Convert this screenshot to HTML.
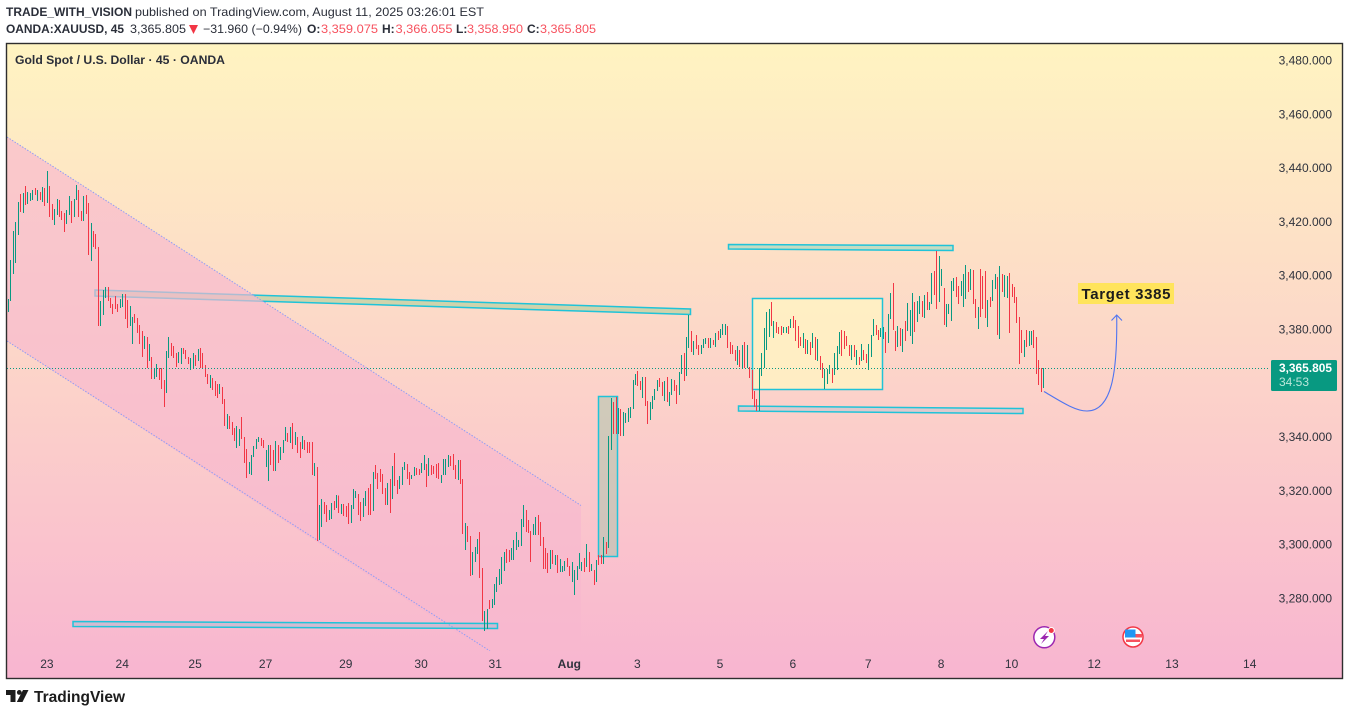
<!DOCTYPE html>
<html lang="en">
<head>
<meta charset="utf-8">
<title>Gold Spot / U.S. Dollar chart</title>
<style>
html,body{margin:0;padding:0;width:1349px;height:715px;overflow:hidden;background:#fff}
svg{display:block;font-family:"Liberation Sans",sans-serif}
</style>
</head>
<body>
<svg id="chart" xmlns="http://www.w3.org/2000/svg" width="1349" height="715" viewBox="0 0 1349 715">
  <defs>
    <linearGradient id="bgGrad" x1="0" y1="0" x2="0" y2="1">
      <stop offset="0" stop-color="#fff4c1"/>
      <stop offset="0.5" stop-color="#fcd5c9"/>
      <stop offset="1" stop-color="#f8b5d0"/>
    </linearGradient>
    <clipPath id="paneClip"><rect x="7" y="44" width="1335" height="607"/></clipPath>
  </defs>

  <g font-size="12">
    <text x="6" y="16" font-weight="700" fill="#2a2e39" textLength="126" lengthAdjust="spacingAndGlyphs">TRADE_WITH_VISION</text>
    <text x="135" y="16" fill="#2a2e39" textLength="349" lengthAdjust="spacingAndGlyphs">published on TradingView.com, August 11, 2025 03:26:01 EST</text>
    <text x="6" y="33" font-weight="700" fill="#2a2e39" textLength="118" lengthAdjust="spacingAndGlyphs">OANDA:XAUUSD, 45</text>
    <text x="130" y="33" fill="#2a2e39" textLength="56" lengthAdjust="spacingAndGlyphs">3,365.805</text>
    <polygon points="189,25 198,25 193.5,34" fill="#f23645"/>
    <text x="203" y="33" fill="#2a2e39" textLength="99" lengthAdjust="spacingAndGlyphs">−31.960 (−0.94%)</text>
    <text x="307" y="33" font-weight="700" fill="#2a2e39">O:</text>
    <text x="321" y="33" fill="#f7525f" textLength="57" lengthAdjust="spacingAndGlyphs">3,359.075</text>
    <text x="382" y="33" font-weight="700" fill="#2a2e39">H:</text>
    <text x="395.5" y="33" fill="#f7525f" textLength="57" lengthAdjust="spacingAndGlyphs">3,366.055</text>
    <text x="456" y="33" font-weight="700" fill="#2a2e39">L:</text>
    <text x="467" y="33" fill="#f7525f" textLength="56" lengthAdjust="spacingAndGlyphs">3,358.950</text>
    <text x="527" y="33" font-weight="700" fill="#2a2e39">C:</text>
    <text x="540" y="33" fill="#f7525f" textLength="56" lengthAdjust="spacingAndGlyphs">3,365.805</text>
  </g>

  <rect x="6.5" y="43.5" width="1336" height="635" fill="url(#bgGrad)"/>

  <g clip-path="url(#paneClip)">
    <polygon points="95,290 690.5,309 690.5,314.5 95,296" fill="rgba(170,205,150,.55)" stroke="#1fc3d8" stroke-width="1.5"/>
  </g>

  <g clip-path="url(#paneClip)">
    <polygon points="7,137 581,505.5 581,651 485,651 7,341" fill="rgba(248,184,206,.66)"/>
    <line x1="7" y1="137" x2="581" y2="505.5" stroke="#8f9cf6" stroke-width="1" stroke-dasharray="1.5 1.5"/>
    <line x1="7" y1="341" x2="490" y2="651" stroke="#8f9cf6" stroke-width="1" stroke-dasharray="1.5 1.5"/>
  </g>

  <g>
    <polygon points="73,621.5 497.5,623.5 497.5,628.5 73,626.5" fill="rgba(120,190,215,.3)" stroke="#1fc3d8" stroke-width="1.5"/>
    <rect x="598.5" y="396.5" width="19" height="160" fill="rgba(165,195,170,.5)" stroke="#1fc3d8" stroke-width="1.5"/>
    <polygon points="728.5,244.5 953,245.5 953,250.5 728.5,249" fill="rgba(140,215,190,.5)" stroke="#1fc3d8" stroke-width="1.5"/>
    <rect x="752.5" y="298.5" width="130" height="91" fill="rgba(255,243,195,.82)" stroke="#1fc3d8" stroke-width="1.5"/>
    <polygon points="738.5,406 1023,408.5 1023,413.5 738.5,411" fill="rgba(150,190,215,.3)" stroke="#1fc3d8" stroke-width="1.5"/>
  </g>

  <g id="bars"></g>
  <line id="lastLine" x1="7" x2="1268" stroke="#089981" stroke-width="1" stroke-dasharray="1 2" shape-rendering="crispEdges"/>

  <g fill="none" stroke="#4f74f0" stroke-width="1.1">
    <path d="M1044 391.5 C1060 401 1075 411 1087 411 C1112 411 1117.5 372 1116.7 315"/>
    <path d="M1111.5 320.5 L1116.7 315 L1122 320.5"/>
  </g>
  <g>
    <rect x="1078" y="283" width="96" height="21" fill="#ffe45c"/>
    <text x="1081.5" y="299" font-size="15" font-weight="700" fill="#1c1c1c" textLength="89" lengthAdjust="spacing">Target 3385</text>
  </g>

  <g id="yAxis" font-size="12" fill="#2f333d" text-anchor="end"></g>
  <g id="xAxis" font-size="12" fill="#2f333d" text-anchor="middle"></g>

  <g>
    <rect x="1271" y="360" width="66" height="31" rx="1.5" fill="#089981"/>
    <text id="lastText" x="1332" y="372" font-size="12" font-weight="700" fill="#fff" text-anchor="end" textLength="53" lengthAdjust="spacingAndGlyphs"></text>
    <text x="1279" y="386" font-size="12" fill="#b9e6da">34:53</text>
  </g>

  <text x="15" y="64" font-size="12" font-weight="700" fill="#2a2e39" textLength="210" lengthAdjust="spacingAndGlyphs">Gold Spot / U.S. Dollar · 45 · OANDA</text>

  <g>
    <circle cx="1044.3" cy="637.3" r="10.5" fill="#fff" stroke="#9c27b0" stroke-width="1.5"/>
    <polygon points="1048,631 1040,639 1044,639 1041,644 1049,636 1045,636" fill="#9c27b0"/>
    <circle cx="1051.3" cy="630.5" r="3" fill="#f23645" stroke="#fff" stroke-width="1"/>
  </g>
  <g>
    <circle cx="1133" cy="637" r="10" fill="#fff" stroke="#f23645" stroke-width="1.5"/>
    <rect x="1125" y="629.5" width="10.5" height="8" fill="#2196f3"/>
    <rect x="1135.5" y="634" width="6.5" height="3.5" fill="#f7525f"/>
    <rect x="1126" y="639.5" width="14" height="2.5" fill="#f7525f"/>
  </g>

  <rect x="6.5" y="43.5" width="1336" height="635" fill="none" stroke="#2e2e2e" stroke-width="1.4"/>

  <g>
    <polygon points="6,690 15.5,690 15.5,702 10.5,702 10.5,695 6,695" fill="#1c1c1c"/>
    <circle cx="19.3" cy="692.4" r="2.4" fill="#1c1c1c"/>
    <polygon points="23,690 28.5,690 22.5,702 16.8,702" fill="#1c1c1c"/>
    <text x="34" y="702" font-size="16" font-weight="700" fill="#1c1c1c" textLength="91" lengthAdjust="spacingAndGlyphs">TradingView</text>
  </g>
</svg>

<script>
const highs = [
3391.5,3406.0,3416.8,3420.2,3427.6,3430.6,3430.9,3433.6,3431.3,3430.9,
3432.1,3432.8,3432.1,3431.3,3433.2,3432.8,3439.1,3433.6,3426.9,3425.0,
3428.7,3428.3,3424.3,3423.5,3424.6,3429.8,3428.0,3428.7,3433.9,3432.1,
3424.3,3429.8,3430.2,3427.2,3419.8,3416.8,3415.7,3410.9,3390.8,3394.9,
3396.0,3396.0,3391.9,3389.7,3392.6,3389.7,3391.5,3393.4,3393.4,3391.2,
3388.9,3384.9,3386.0,3384.5,3381.9,3379.6,3377.8,3377.4,3374.8,3370.0,
3365.5,3367.4,3365.9,3365.9,3361.4,3372.2,3377.4,3375.2,3374.1,3371.5,
3371.8,3373.3,3373.3,3372.6,3370.0,3369.6,3371.5,3370.7,3373.0,3373.3,
3371.5,3367.0,3363.7,3363.3,3362.2,3361.1,3359.9,3359.9,3358.8,3354.4,
3348.8,3348.0,3345.8,3343.6,3344.3,3343.2,3347.7,3340.2,3335.8,3331.0,
3333.6,3336.9,3339.5,3340.2,3339.9,3339.1,3335.4,3337.3,3337.3,3335.4,
3338.8,3337.3,3336.5,3339.1,3344.0,3341.7,3344.0,3345.5,3342.1,3340.2,
3338.4,3340.6,3339.1,3338.4,3338.4,3338.4,3330.6,3329.1,3315.0,3317.2,
3316.1,3315.0,3313.1,3315.7,3316.5,3318.7,3318.4,3315.4,3315.4,3314.6,
3315.7,3315.0,3320.9,3320.2,3319.1,3316.1,3317.6,3320.2,3321.3,3322.8,
3327.2,3329.8,3326.9,3328.3,3326.5,3321.3,3323.1,3324.6,3329.5,3334.3,
3324.3,3325.7,3329.1,3331.0,3330.2,3327.2,3326.1,3329.1,3328.7,3328.3,
3330.6,3333.6,3330.2,3332.4,3329.8,3329.5,3330.2,3330.6,3326.1,3332.1,
3332.1,3333.6,3333.2,3333.9,3329.8,3331.7,3331.7,3324.6,3308.3,3307.2,
3303.4,3297.5,3299.3,3302.3,3304.9,3291.6,3275.6,3276.3,3279.7,3280.0,
3285.6,3288.2,3291.2,3295.6,3297.5,3298.6,3298.2,3299.0,3302.0,3304.9,
3302.0,3309.8,3315.0,3313.1,3309.4,3305.3,3307.9,3310.5,3311.3,3308.6,
3303.1,3299.0,3297.1,3298.2,3298.2,3296.4,3296.4,3294.9,3292.3,3294.1,
3295.3,3292.3,3293.8,3290.8,3292.3,3297.1,3293.8,3295.3,3300.5,
3297.5,3293.0,3290.8,3294.5,3296.4,3296.4,3303.1,3301.2,3340.6,3354.7,
3353.3,3355.1,3351.0,3350.7,3349.5,3349.2,3351.0,3351.4,3361.4,3363.7,
3364.8,3361.1,3362.5,3362.5,3353.6,3353.3,3355.5,3358.1,3361.4,3362.2,
3360.7,3361.1,3362.5,3357.0,3361.8,3361.4,3359.6,3364.4,3370.7,3371.5,
3377.4,3385.6,3379.6,3375.9,3378.2,3374.4,3374.4,3376.7,3377.0,3377.0,
3377.0,3376.3,3378.9,3379.6,3380.4,3382.3,3382.3,3381.5,3375.6,3374.4,
3372.6,3374.1,3372.6,3374.4,3375.6,3374.4,3366.3,3365.2,3357.3,3354.4,
3365.9,3371.5,3380.8,3386.7,3387.8,3390.4,3383.4,3383.0,3381.1,3381.5,
3381.1,3381.1,3381.5,3384.1,3385.2,3383.7,3381.5,3377.4,3378.9,3376.7,
3376.3,3375.6,3378.9,3377.4,3376.7,3370.4,3367.8,3365.5,3365.5,3367.0,
3365.9,3371.5,3374.1,3379.3,3380.0,3379.6,3377.8,3374.4,3374.4,3374.4,
3372.6,3370.0,3374.8,3372.6,3371.1,3374.8,3378.2,3384.1,3381.9,3380.0,
3380.8,3381.1,3379.3,3386.0,3393.8,3397.5,3379.6,3381.5,3380.8,3380.4,
3383.4,3390.1,3387.5,3393.8,3390.4,3390.8,3392.6,3390.8,3393.0,3394.1,
3390.4,3401.2,3401.9,3409.4,3407.5,3402.7,3395.6,3389.7,3389.7,3398.2,
3399.4,3399.7,3396.4,3398.2,3400.8,3404.2,3401.6,3402.7,3402.3,3391.5,3388.6,
3402.7,3400.1,3401.9,3391.2,3392.3,3398.6,3400.8,3399.7,3403.8,3400.8,
3400.5,3400.1,3401.2,3397.1,3396.0,3392.3,3384.9,3380.0,3376.3,3380.0,
3379.6,3379.6,3380.0,3377.4,3368.9,3365.9,3365.9];

const lows = [
3386.7,3390.8,3400.8,3404.9,3415.3,3423.9,3423.5,3426.5,3426.9,3428.0,
3428.3,3430.2,3428.0,3428.3,3427.6,3426.1,3427.2,3422.0,3420.9,3419.1,
3422.8,3422.0,3420.9,3416.5,3419.4,3422.8,3419.8,3422.0,3428.3,3422.0,
3420.5,3420.5,3423.1,3407.9,3405.7,3410.9,3410.1,3381.5,3381.5,3385.6,
3391.9,3390.8,3388.2,3386.0,3387.8,3386.7,3388.2,3388.6,3384.1,3380.8,
3381.5,3374.8,3382.6,3378.9,3374.8,3370.0,3373.0,3365.9,3368.5,3361.8,
3361.8,3362.5,3361.4,3358.1,3351.4,3356.6,3369.6,3370.4,3369.6,3366.3,
3367.8,3367.4,3371.1,3369.2,3367.4,3365.2,3365.5,3366.6,3368.5,3365.9,
3365.5,3362.5,3359.9,3358.5,3357.7,3355.5,3354.7,3356.2,3352.5,3344.3,
3343.2,3343.2,3341.0,3338.8,3336.2,3336.9,3339.5,3330.6,3325.0,3326.5,
3326.1,3332.8,3335.8,3338.4,3336.9,3336.2,3329.1,3323.9,3329.8,3327.6,
3327.6,3330.6,3331.7,3334.3,3338.8,3338.4,3338.0,3335.8,3337.3,3334.3,
3332.4,3335.8,3335.4,3334.3,3334.3,3326.1,3325.7,3301.6,3302.0,3306.8,
3311.6,3308.6,3309.4,3309.8,3313.1,3313.9,3312.0,3311.6,3310.9,3310.5,
3307.9,3308.3,3313.5,3317.6,3311.3,3309.0,3310.5,3314.6,3311.3,3311.3,
3312.7,3324.6,3320.9,3323.5,3319.1,3315.0,3315.0,3312.0,3317.2,3322.0,
3319.1,3320.9,3322.4,3328.0,3324.6,3322.4,3324.6,3325.7,3326.1,3326.1,
3326.9,3328.0,3321.7,3325.7,3326.1,3326.5,3325.0,3324.6,3323.1,3326.1,
3326.1,3329.1,3329.5,3328.0,3324.6,3324.3,3322.8,3304.2,3298.2,3301.2,
3288.6,3288.9,3293.8,3296.8,3287.8,3271.8,3268.1,3268.9,3276.3,3276.7,
3277.8,3282.6,3285.2,3285.6,3290.4,3293.4,3293.8,3294.5,3294.5,3298.2,
3299.3,3299.7,3306.8,3304.9,3304.6,3293.8,3303.8,3303.8,3303.8,3299.7,
3291.2,3291.2,3289.7,3291.2,3293.0,3292.6,3289.7,3290.1,3290.1,3290.4,
3291.9,3288.6,3286.3,3281.5,3287.1,3291.2,3290.4,3290.1,3291.9,
3290.1,3290.4,3285.2,3286.3,3292.6,3293.0,3293.0,3296.8,3299.0,3335.4,
3341.4,3341.4,3341.4,3340.6,3340.6,3345.5,3345.8,3347.3,3350.7,3359.6,
3359.2,3357.7,3354.7,3351.8,3345.1,3346.6,3350.7,3354.0,3357.3,3358.8,
3355.5,3353.6,3353.3,3351.8,3355.9,3357.3,3352.5,3355.9,3363.7,3361.1,
3362.9,3373.3,3371.8,3370.7,3373.0,3370.7,3371.1,3373.3,3374.8,3373.3,
3373.3,3374.4,3373.7,3376.3,3377.0,3378.2,3378.2,3373.3,3371.1,3371.1,
3368.5,3367.0,3366.3,3365.9,3365.9,3365.9,3362.2,3354.4,3351.4,3349.9,
3349.9,3362.9,3365.9,3372.6,3377.4,3381.5,3377.0,3378.9,3378.5,3378.2,
3378.9,3378.9,3378.5,3380.8,3380.8,3375.9,3373.3,3374.1,3373.3,3371.1,
3371.1,3370.7,3373.3,3368.9,3368.5,3365.2,3362.2,3358.1,3359.9,3363.7,
3360.3,3363.3,3365.2,3371.1,3370.4,3373.0,3374.1,3370.4,3368.9,3370.0,
3367.0,3367.0,3368.5,3368.9,3367.8,3365.2,3370.0,3377.8,3378.2,3376.3,
3377.4,3376.7,3371.5,3375.2,3384.1,3380.0,3372.2,3373.7,3374.1,3371.8,
3375.9,3379.6,3377.8,3374.8,3379.3,3383.0,3386.0,3384.9,3384.5,3387.5,
3387.5,3389.7,3393.0,3387.8,3390.4,3396.4,3381.9,3381.1,3386.0,3383.4,
3394.5,3392.3,3389.7,3392.6,3388.6,3391.5,3394.1,3394.9,3389.7,3384.5,3380.4,
3384.9,3387.8,3384.5,3381.1,3388.6,3390.8,3395.3,3378.2,3376.7,3394.1,
3392.3,3391.9,3378.9,3392.3,3390.1,3382.6,3367.4,3371.5,3370.0,3373.7,
3374.1,3374.4,3373.3,3363.7,3359.6,3357.0,3358.5];

const upFlags = [
1,1,1,1,1,0,1,0,1,1,
1,0,1,0,1,0,1,0,0,1,
1,0,0,0,1,1,0,1,1,0,
0,1,0,0,1,0,0,0,1,1,
1,0,0,0,0,0,1,1,0,0,
1,1,0,0,0,0,1,0,1,0,
1,1,0,0,0,1,1,0,0,0,
1,1,0,0,0,1,1,0,1,0,
0,0,0,1,0,0,0,1,0,0,
1,0,0,0,1,1,0,0,0,1,
1,1,1,1,0,0,1,1,0,0,
1,0,1,1,1,0,1,0,1,0,
0,1,0,0,0,0,1,0,1,1,
0,0,1,1,0,1,0,1,0,0,
0,1,1,1,0,0,1,1,0,0,
1,0,0,0,0,0,1,0,1,0,
0,1,1,1,0,0,1,1,0,0,
1,1,0,1,0,0,0,0,1,1,
1,1,0,0,0,1,0,0,1,0,
0,1,1,1,0,0,1,1,0,1,
1,1,1,1,1,0,0,1,1,1,
1,1,1,0,0,0,1,1,0,0,
0,0,0,1,0,1,0,1,1,1,
0,0,1,1,1,1,1,0,1,
0,1,0,1,0,0,1,0,1,1,
0,0,1,0,1,1,1,1,1,1,
0,0,1,0,0,1,1,1,1,0,
0,1,0,1,1,0,0,1,1,0,
1,1,0,1,0,0,1,1,1,0,
1,0,1,0,1,1,1,0,0,0,
0,1,0,1,0,1,0,0,0,0,
1,1,1,1,1,0,1,0,0,0,
1,1,0,1,0,0,0,0,1,0,
1,0,1,0,1,0,0,1,1,1,
0,1,1,1,0,0,0,0,1,0,
1,0,1,0,0,1,1,1,0,0,
1,1,0,1,1,0,0,1,0,1,
0,1,1,1,0,1,1,0,1,0,
1,1,0,0,1,1,0,1,1,1,
1,0,0,1,1,1,0,1,0,0,1,
0,0,0,1,0,1,1,0,1,0,
1,1,0,0,0,0,0,0,1,0,
1,1,0,0,0,0,1];

const priceTicks = [3480,3460,3440,3420,3400,3380,3340,3320,3300,3280];
const timeLabels = ["23","24","25","27","29","30","31","Aug","3","5","6","7","8","10","12","13","14"];
const timeBars = [16,47,77,106,139,170,200.5,231,259,293,323,354,384,413,447,479,511];
const lastPrice = 3365.805;

const SVGNS = "http://www.w3.org/2000/svg";
function xScale(i){ return 8 + 2.43 * i; }
function yScale(p){ return 61 + (3480 - p) * 2.69; }
function formatPrice(p){
  const s = p.toFixed(3);
  return s.charAt(0) + "," + s.slice(1);
}

const barsGroup = document.getElementById("bars");
highs.forEach(function(h, i){
  const bar = document.createElementNS(SVGNS, "rect");
  
  
  const top = yScale(h);
  const bottom = yScale(lows[i]);
  bar.setAttribute("x", Math.round(xScale(i)));
  bar.setAttribute("y", top);
  bar.setAttribute("width", 1);
  bar.setAttribute("height", Math.max(bottom - top, 1));
  bar.setAttribute("fill", upFlags[i] ? "#089981" : "#f23645");
  bar.setAttribute("shape-rendering", "crispEdges");
  barsGroup.appendChild(bar);
});

const yAxis = document.getElementById("yAxis");
priceTicks.forEach(function(p){
  const label = document.createElementNS(SVGNS, "text");
  
  
  label.setAttribute("x", 1332);
  label.setAttribute("y", yScale(p) + 3.5);
  label.textContent = formatPrice(p);
  yAxis.appendChild(label);
});

const xAxis = document.getElementById("xAxis");
timeLabels.forEach(function(t, i){
  const label = document.createElementNS(SVGNS, "text");
  
  
  label.setAttribute("x", xScale(timeBars[i]));
  label.setAttribute("y", 668);
  if (t === "Aug") { label.setAttribute("font-weight", "700"); }
  label.textContent = t;
  xAxis.appendChild(label);
});

const lastLine = document.getElementById("lastLine");
lastLine.setAttribute("y1", Math.floor(yScale(lastPrice)) + 0.5);
lastLine.setAttribute("y2", Math.floor(yScale(lastPrice)) + 0.5);
document.getElementById("lastText").textContent = formatPrice(lastPrice);
</script>
</body>
</html>
